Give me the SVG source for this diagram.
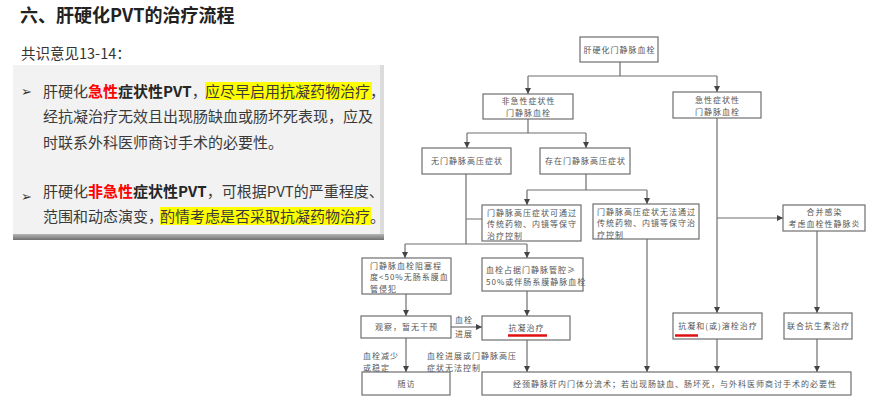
<svg xmlns="http://www.w3.org/2000/svg" width="887" height="405" viewBox="0 0 887 405">
<style>
.t{font-family:"Noto Sans CJK SC","Noto Sans",sans-serif;}
.body{font-size:15px;fill:#3a3a3a;}
.b{font-weight:bold;fill:#262626;}
.red{font-weight:bold;fill:#ff0000;}
.box{fill:#fff;stroke:#6e6e6e;stroke-width:1.2;}
.ft{font-family:"Noto Sans CJK SC","Noto Sans",sans-serif;font-size:8px;letter-spacing:1px;fill:#555;}
.c{text-anchor:middle;}
.ln{fill:none;stroke:#6e6e6e;stroke-width:1.2;}
.ul{stroke:#e01010;stroke-width:2.5;}
</style>
<defs>
<marker id="ah" viewBox="0 0 10 10" refX="10" refY="5" markerWidth="6" markerHeight="6" markerUnits="userSpaceOnUse" orient="auto">
<path d="M0,0 L10,5 L0,10 z" fill="#444"/>
</marker>
<linearGradient id="sh" x1="0" y1="0" x2="0" y2="1">
<stop offset="0" stop-color="#b5b5b5"/>
<stop offset="1" stop-color="#707070"/>
</linearGradient>
</defs>
<rect width="887" height="405" fill="#fff"/>

<g id="title">
<text class="t" x="20" y="22" font-size="18" font-weight="bold" fill="#222">六、肝硬化PVT的治疗流程</text>
<text class="t" x="21" y="59" font-size="14.5" fill="#333">共识意见13-14：</text>
</g>

<g id="panel">
<rect x="13" y="65" width="370" height="172" fill="#f2f2f2"/>
<rect x="380" y="65" width="4" height="172" fill="#dcdcdc"/>
<rect x="13" y="234" width="371" height="6" fill="url(#sh)"/>
<rect x="205" y="82" width="167" height="18" fill="#ffff00"/>
<rect x="160" y="207" width="211" height="18" fill="#ffff00"/>
<text x="21" y="96" font-family="DejaVu Sans" font-size="13" fill="#333">➢</text>
<text x="21" y="201" font-family="DejaVu Sans" font-size="13" fill="#333">➢</text>
<text class="t body" x="43" y="97">肝硬化<tspan class="red">急性</tspan><tspan class="b">症状性PVT</tspan>，<tspan x="205">应尽早启用抗凝药物治疗</tspan>，</text>
<text class="t body" x="43" y="122">经抗凝治疗无效且出现肠缺血或肠坏死表现，应及</text>
<text class="t body" x="43" y="148">时联系外科医师商讨手术的必要性。</text>
<text class="t body" x="43" y="197">肝硬化<tspan class="red">非急性</tspan><tspan class="b">症状性PVT</tspan>，可根据PVT的严重程度、</text>
<text class="t body" x="43" y="222">范围和动态演变，<tspan x="160">酌情考虑是否采取抗凝药物治疗</tspan>。</text>
</g>

<g id="connectors">
<path class="ln" d="M620,62 V76 M528,76 H717"/>
<path class="ln" d="M528,76 V94" marker-end="url(#ah)"/>
<path class="ln" d="M717,76 V92" marker-end="url(#ah)"/>
<path class="ln" d="M528,119 V133 M467,133 H586"/>
<path class="ln" d="M467,133 V148" marker-end="url(#ah)"/>
<path class="ln" d="M586,133 V148" marker-end="url(#ah)"/>
<path class="ln" d="M586,174 V190 M527,190 H647"/>
<path class="ln" d="M527,190 V205" marker-end="url(#ah)"/>
<path class="ln" d="M647,190 V204" marker-end="url(#ah)"/>
<path class="ln" d="M466,174 V244 M482,219 H466 M405,244 H527"/>
<path class="ln" d="M405,244 V258" marker-end="url(#ah)"/>
<path class="ln" d="M527,244 V258" marker-end="url(#ah)"/>
<path class="ln" d="M406,294 V316" marker-end="url(#ah)"/>
<path class="ln" d="M527,291 V316" marker-end="url(#ah)"/>
<path class="ln" d="M451,327 H482" marker-end="url(#ah)"/>
<path class="ln" d="M406,338 V372" marker-end="url(#ah)"/>
<path class="ln" d="M527,340 V372" marker-end="url(#ah)"/>
<path class="ln" d="M647,239 V372" marker-end="url(#ah)"/>
<path class="ln" d="M717,118 V313" marker-end="url(#ah)"/>
<path class="ln" d="M717,218 H783" marker-end="url(#ah)"/>
<path class="ln" d="M817,231 V313" marker-end="url(#ah)"/>
<path class="ln" d="M717,339 V372" marker-end="url(#ah)"/>
<path class="ln" d="M817,339 V372" marker-end="url(#ah)"/>
<text class="ft" x="455" y="323">血栓</text>
<text class="ft" x="455" y="337">进展</text>
<text class="ft" x="363" y="358.5">血栓减少</text>
<text class="ft" x="363" y="370.5">或稳定</text>
<text class="ft" x="427" y="358.5">血栓进展或门静脉高压</text>
<text class="ft" x="427" y="370.5">症状无法控制</text>
</g>

<g id="n-root"><rect class="box" x="580" y="37" width="78" height="25"/><text class="ft c" x="619.5" y="52.5">肝硬化门静脉血栓</text></g>
<g id="n-nonacute"><rect class="box" x="483" y="94" width="90" height="25"/><text class="ft c" x="528.5" y="104">非急性症状性</text><text class="ft c" x="528.5" y="116">门静脉血栓</text></g>
<g id="n-acute"><rect class="box" x="673" y="92" width="88" height="26"/><text class="ft c" x="717.5" y="103">急性症状性</text><text class="ft c" x="717.5" y="115">门静脉血栓</text></g>
<g id="n-nohtn"><rect class="box" x="422" y="148" width="89" height="26"/><text class="ft c" x="467" y="164">无门静脉高压症状</text></g>
<g id="n-htn"><rect class="box" x="540" y="148" width="90" height="26"/><text class="ft c" x="585.5" y="164">存在门静脉高压症状</text></g>
<g id="n-ctrl"><rect class="box" x="482" y="205" width="99" height="36"/><text class="ft" x="487" y="215.5">门静脉高压症状可通过</text><text class="ft" x="487" y="227">传统药物、内镜等保守</text><text class="ft" x="487" y="238.5">治疗控制</text></g>
<g id="n-noctrl"><rect class="box" x="593" y="204" width="106" height="35"/><text class="ft" x="597" y="214.5">门静脉高压症状无法通过</text><text class="ft" x="597" y="226">传统药物、内镜等保守治</text><text class="ft" x="597" y="237.5">疗控制</text></g>
<g id="n-infect"><rect class="box" x="783" y="205" width="82" height="26"/><text class="ft c" x="824.5" y="215">合并感染</text><text class="ft c" x="824.5" y="227">考虑血栓性静脉炎</text></g>
<g id="n-lt50"><rect class="box" x="362" y="258" width="89" height="36"/><text class="ft" x="370" y="268.5">门静脉血栓阻塞程</text><text class="ft" x="370" y="280">度&lt;50%无肠系膜血</text><text class="ft" x="370" y="291.5">管侵犯</text></g>
<g id="n-ge50"><rect class="box" x="482" y="258" width="101" height="33"/><text class="ft" x="486" y="273">血栓占据门静脉管腔≥</text><text class="ft" x="486" y="285">50%或伴肠系膜静脉血栓</text></g>
<g id="n-observe"><rect class="box" x="361" y="316" width="90" height="22"/><text class="ft c" x="406.5" y="330">观察，暂无干预</text></g>
<g id="n-anticoag"><rect class="box" x="482" y="316" width="88" height="24"/><text class="ft c" x="526.5" y="331">抗凝治疗</text><line class="ul" x1="508" y1="335.5" x2="547" y2="335.5"/></g>
<g id="n-thromb"><rect class="box" x="673" y="313" width="89" height="26"/><text class="ft c" x="718" y="329">抗凝和(或)溶栓治疗</text><line class="ul" x1="675" y1="335.5" x2="698" y2="335.5"/></g>
<g id="n-abx"><rect class="box" x="784" y="313" width="68" height="26"/><text class="ft c" x="818.5" y="329">联合抗生素治疗</text></g>
<g id="n-follow"><rect class="box" x="362" y="372" width="88" height="23"/><text class="ft c" x="406.5" y="387">随访</text></g>
<g id="n-tips"><rect class="box" x="482" y="372" width="369" height="23"/><text class="ft" x="513" y="387">经颈静脉肝内门体分流术；若出现肠缺血、肠坏死，与外科医师商讨手术的必要性</text></g>
</svg>
